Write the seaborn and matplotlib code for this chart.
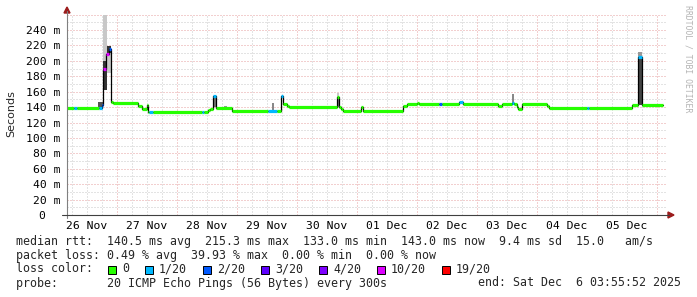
import matplotlib
matplotlib.use("Agg")
import matplotlib.pyplot as plt
import seaborn as sns
import pandas as pd
import numpy as np
from matplotlib.patches import Polygon, Rectangle
from matplotlib.lines import Line2D

# ---------------- data ----------------
# hours since Wed Nov 26 04:00 (window ends Sat Dec 6 04:00)
seg_start = [0.0, 2.8, 4.0, 12.8, 13.8, 14.5, 15.4, 16.6, 17.6, 18.4, 28.4, 30.0,
             32.0, 32.5, 32.8, 34.4, 53.9, 54.8, 56.4, 57.2, 58.4, 59.6, 65.9,
             80.4, 83.9, 85.5, 86.5, 87.9, 88.9, 107.9, 108.8, 109.6, 110.5,
             117.6, 118.5, 134.5, 136.0, 140.0, 140.8, 148.8, 149.9, 156.8,
             158.5, 172.5, 173.9, 177.9, 178.8, 179.9, 180.5, 181.9, 191.9,
             192.8, 208.0, 208.8, 225.9, 228.5, 229.9]
seg_end_last = 238.5
median_ms = [139, 139, 139, 139, 143, 189, 209, 216, 147, 145, 141, 138,
             143, 133, 133, 133, 133, 134, 136, 138, 154, 139, 135,
             135, 135, 154, 144, 142, 140.5, 153, 140, 138, 135,
             139.5, 135, 141.5, 144, 145.5, 144, 144, 144, 146,
             144, 142, 144, 145, 144, 140, 138, 144, 141,
             138.5, 138.5, 138.5, 143, 205, 143]
loss_idx = [0, 1, 0, 1, 2, 5, 5, 2, 0, 0, 0, 0,
            0, 0, 1, 0, 1, 0, 0, 0, 1, 0, 0,
            1, 0, 1, 0, 0, 0, 0, 0, 0, 0,
            0, 0, 0, 0, 0, 0, 2, 0, 1,
            0, 0, 0, 1, 0, 0, 0, 0, 0,
            0, 1, 0, 0, 1, 0]

# visible smoke (ping spread) patches
smoke_start = [12.4, 14.5, 14.5, 15.9, 15.9, 58.4, 62.8, 82.0, 107.9, 107.9, 177.9, 228.5, 228.5]
smoke_end = [14.5, 15.9, 15.9, 17.6, 17.6, 59.6, 64.0, 82.8, 108.8, 108.8, 178.8, 229.9, 229.9]
smoke_lo = [139, 162, 162, 184, 210, 140, 139, 135, 150, 140, 144, 205, 143]
smoke_hi = [147, 259, 200, 219, 219, 155, 141.5, 145, 158, 150, 157, 211, 205]
smoke_gray = ["#555555", "#c8c8c8", "#333333", "#c8c8c8", "#333333", "#777777",
              "#999999", "#888888", "#c8c8c8", "#777777", "#888888", "#999999", "#444444"]

loss_labels = ["0", "1/20", "2/20", "3/20", "4/20", "10/20", "19/20"]
loss_colors = ["#26ff00", "#00b8ff", "#0059ff", "#5e00ff", "#7e00ff", "#dd00ff", "#ff0000"]

day_labels = ["26 Nov", "27 Nov", "28 Nov", "29 Nov", "30 Nov",
              "01 Dec", "02 Dec", "03 Dec", "04 Dec", "05 Dec"]
y_ticks = [0, 20, 40, 60, 80, 100, 120, 140, 160, 180, 200, 220, 240]
y_ticklabels = ["0  "] + [f"{v} m" for v in y_ticks[1:]]

line_rtt = "median rtt:  140.5 ms avg  215.3 ms max  133.0 ms min  143.0 ms now  9.4 ms sd  15.0   am/s"
line_loss = "packet loss: 0.49 % avg  39.93 % max  0.00 % min  0.00 % now"
line_probe = "probe:       20 ICMP Echo Pings (56 Bytes) every 300s"
line_end = "end: Sat Dec  6 03:55:52 2025"
watermark = "RRDTOOL / TOBI OETIKER"

# ---------------- figure ----------------
W, H = 697, 297
sns.set_style("white")
plt.rcParams["font.family"] = ["DejaVu Sans Mono", "DejaVu Sans"]
fig = plt.figure(figsize=(W / 100, H / 100), dpi=100)
fig.patch.set_facecolor("white")

x0, x1 = 67, 667
y_top_px, y_bot_px = 14.6, 215
ax = fig.add_axes([x0 / W, (H - y_bot_px) / H, (x1 - x0) / W, (y_bot_px - y_top_px) / H])
ax.set_facecolor("white")
XMAX, YMAX = 240, 260
ax.set_xlim(0, XMAX)
ax.set_ylim(0, YMAX)

def px(x, y):
    return (x / W, 1 - y / H)

# grid
dot = (0, (1, 2))
for h in np.arange(2, XMAX, 6):
    major = (h - 20) % 24 == 0
    ax.axvline(h, color="#e6a0a0" if major else "#c8c8c8", lw=0.72, ls=dot, zorder=0)
for v in range(10, YMAX + 1, 10):
    major = v % 20 == 0
    ax.axhline(v, color="#e6a0a0" if major else "#c8c8c8", lw=0.72, ls=dot, zorder=0)

# smoke
for s, e, lo, hi, c in zip(smoke_start, smoke_end, smoke_lo, smoke_hi, smoke_gray):
    ax.bar(s, hi - lo, bottom=lo, width=e - s, align="edge", color=c, linewidth=0, zorder=1)

# median step line (black)
seg_end = seg_start[1:] + [seg_end_last]
df = pd.DataFrame({"t": seg_start + [seg_end_last], "rtt": median_ms + [median_ms[-1]]})
sns.lineplot(data=df, x="t", y="rtt", drawstyle="steps-post", color="black",
             lw=0.9, estimator=None, sort=False, ax=ax, zorder=2)

# loss-colored median segments
for s, e, v, li in zip(seg_start, seg_end, median_ms, loss_idx):
    ax.hlines(v, s, e, colors=loss_colors[li], lw=2.3, zorder=3, capstyle="butt")

# axes styling
for sp in ax.spines.values():
    sp.set_visible(False)
ax.set_xlabel("")
ax.set_ylabel("")
ax.set_xticks(np.arange(8, XMAX, 24))
ax.set_xticklabels(day_labels)
ax.set_yticks(y_ticks)
ax.set_yticklabels(y_ticklabels)
ax.tick_params(axis="both", length=0, labelsize=8.2, colors="black")
ax.tick_params(axis="y", pad=5)
ax.tick_params(axis="x", pad=4)

# axis lines with arrows
fig.add_artist(Line2D([px(67, 0)[0]] * 2, [px(0, 218)[1], px(0, 11)[1]],
                      color="#808080", lw=0.8, transform=fig.transFigure))
fig.add_artist(Line2D([px(62, 0)[0], px(669, 0)[0]], [px(0, 215)[1]] * 2,
                      color="#404040", lw=0.8, transform=fig.transFigure))
fig.add_artist(Polygon([px(64, 13), px(70, 13), px(67, 7)], closed=True,
                       color="#9b1c1c", transform=fig.transFigure))
fig.add_artist(Polygon([px(668, 212), px(668, 218), px(674, 215)], closed=True,
                       color="#9b1c1c", transform=fig.transFigure))

# y label and watermark
fig.text(*px(11, 114), "Seconds", rotation=90, ha="center", va="center",
         fontsize=8, family="DejaVu Sans")
fig.text(*px(688, 5), watermark, rotation=270, ha="center", va="top",
         fontsize=5.9, color="#b4b4b4")

# legend text
CW = 7.0
LX = 16
fs = 8.4
for row, txt in ((241, line_rtt), (255, line_loss), (283, line_probe)):
    fig.text(*px(LX, row), txt, ha="left", va="center", fontsize=fs)
fig.text(*px(681, 283), line_end, ha="right", va="center", fontsize=fs)
fig.text(*px(LX, 269), "loss color:", ha="left", va="center", fontsize=fs)
cur = LX + 13 * CW
for lab, col in zip(loss_labels, loss_colors):
    bx, by = px(cur + 1, 273.5)
    fig.add_artist(Rectangle((bx, by), 8 / W, 8 / H, facecolor=col, edgecolor="black",
                             lw=0.7, transform=fig.transFigure))
    fig.text(*px(cur + 15, 269), lab, ha="left", va="center", fontsize=fs)
    cur += 15 + len(lab) * CW + 15

fig.savefig("out.png", dpi=100, facecolor="white")
